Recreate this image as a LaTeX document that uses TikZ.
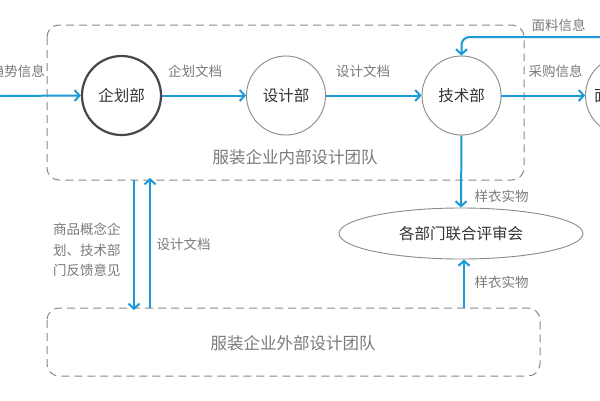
\documentclass[tikz,border=0pt]{standalone}
\usepackage{fontspec}
\setmainfont{Noto Sans CJK SC}
\usetikzlibrary{arrows.meta,shapes.geometric}
\definecolor{flow}{HTML}{1A9AD6}
\definecolor{lbl}{HTML}{7A7A7A}
\definecolor{dark}{HTML}{333333}
\definecolor{rim}{HTML}{8A8A8A}
\tikzset{
  dept/.style={circle,draw=rim,line width=0.9pt,minimum size=79pt,inner sep=0pt,text=dark,font=\fontsize{15.5}{18}\selectfont},
  deptmain/.style={dept,draw=dark!90,line width=2.2pt},
  flowarr/.style={draw=flow,line width=2pt,-{Straight Barb[length=5pt,width=11pt,line width=2pt]}},
  flowline/.style={draw=flow,line width=2pt},
  lab/.style={text=lbl,inner sep=0pt,font=\fontsize{13.5}{20.5}\selectfont},
  team/.style={draw=rim,line width=1pt,dash pattern=on 8pt off 5pt,rounded corners=12pt},
  teamlab/.style={text=lbl,inner sep=0pt,font=\fontsize{16.5}{20}\selectfont},
}
\begin{document}
\begin{tikzpicture}[x=1pt,y=-1pt]
\useasboundingbox (0,0) rectangle (600,400);
\clip (0,0) rectangle (600,400);
\fill[white] (0,0) rectangle (600,400);
% team boxes
\draw[team] (47,25) rectangle (524,180);
\draw[team] (47,308) rectangle (540,376);
\node[teamlab] (inlab) at (295,157) {服装企业内部设计团队};
\node[teamlab] (outlab) at (293,343) {服装企业外部设计团队};
% coordinates on box edges
\coordinate (inbotA) at (134,180);
\coordinate (inbotB) at (150,180);
\coordinate (outtopA) at (134,308);
\coordinate (outtopB) at (150,308);
\coordinate (outtopC) at (464,308);
\coordinate (leftin) at (0,96);
\coordinate (mlstart) at (600,37);
\coordinate (mlcorner) at (461.5,37);
% departments
\node[deptmain] (qh) at (121.5,95.5) {企划部};
\node[dept] (sj) at (286,95.5) {设计部};
\node[dept] (js) at (461.5,95.5) {技术部};
\node[dept] (ml) at (625,95.5) {};
\node[text=dark,inner sep=0pt,anchor=west,font=\fontsize{15.5}{18}\selectfont] (mltext) at (594,95.5) {面料部};
% review ellipse
\node[ellipse,draw=rim,line width=0.9pt,minimum width=244pt,minimum height=51pt,inner sep=0pt,text=dark,font=\fontsize{15.5}{18}\selectfont] (ps) at (461,233.5) {各部门联合评审会};
% flows
\draw[flowarr] (leftin) -- (qh.west);
\draw[flowarr] (qh.east) -- (sj.west);
\draw[flowarr] (sj.east) -- (js.west);
\draw[flowarr] (js.east) -- (ml.west);
\draw[flowarr,rounded corners=8pt] (mlstart) -- (mlcorner) -- (js.north);
\draw[flowarr] (js.south) -- (ps.north);
\draw[flowarr] (outtopC) -- (ps.south -| outtopC);
\draw[flowarr] (inbotA) -- ([yshift=-2pt]outtopA);
\draw[flowarr] (outtopB) -- ([yshift=2pt]inbotB);
% labels
\node[lab,anchor=east] (l1) at (45,71) {趋势信息};
\node[lab] (l2) at (195,71) {企划文档};
\node[lab] (l3) at (363,71) {设计文档};
\node[lab] (l4) at (555.5,71) {采购信息};
\node[lab] (l5) at (558.5,25) {面料信息};
\node[lab] (l6) at (501.5,196) {样衣实物};
\node[lab] (l7) at (501.5,282) {样衣实物};
\node[lab] (l8) at (183.5,244) {设计文档};
\node[lab,align=left,anchor=north west] (l9) at (53,223) {商品概念企\\划、技术部\\门反馈意见};
\end{tikzpicture}
\end{document}
